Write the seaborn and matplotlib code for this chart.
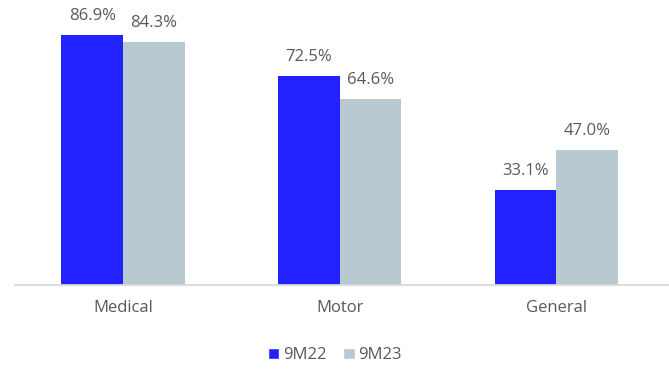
import numpy as np
import pandas as pd
import matplotlib
matplotlib.use("Agg")
import matplotlib.pyplot as plt
import seaborn as sns
from matplotlib.patches import Patch

# data
categories = ['Medical', 'Motor', 'General']
series = ['9M22', '9M23']
vals_9m22 = [86.9, 72.5, 33.1]
vals_9m23 = [84.3, 64.6, 47.0]
colors = ['#2222FF', '#B9C9D2']

df = pd.DataFrame({
    'cat': categories * 2,
    'period': [series[0]] * 3 + [series[1]] * 3,
    'val': vals_9m22 + vals_9m23,
})

sns.set_style('white')
plt.rcParams['font.family'] = ['Open Sans', 'DejaVu Sans']

fig = plt.figure(figsize=(6.69, 3.70), dpi=100)
ax = fig.add_axes([0.022, 0.2297, 0.978, 0.7703])

sns.barplot(data=df, x='cat', y='val', hue='period', palette=colors,
            width=0.57, saturation=1, linewidth=0, ax=ax, legend=False)

# value labels
for cont in ax.containers:
    ax.bar_label(cont, labels=[f'{v:.1f}%' for v in cont.datavalues],
                 padding=8, fontsize=12, color='#595959')

ax.set_xlim(-0.5, 2.52)
ax.set_ylim(0, 99)
ax.set_xlabel('')
ax.set_ylabel('')
ax.set_yticks([])
ax.tick_params(axis='x', length=0, pad=11, labelsize=12, labelcolor='#595959')
for s in ['top', 'right', 'left']:
    ax.spines[s].set_visible(False)
ax.spines['bottom'].set_color('#D9D9D9')
ax.spines['bottom'].set_linewidth(1.3)

# legend
handles = [Patch(facecolor=c, label=l) for c, l in zip(colors, series)]
fig.legend(handles=handles, loc='center', bbox_to_anchor=(0.5, 0.04), ncol=2,
           frameon=False, fontsize=12, labelcolor='#595959',
           handlelength=0.7, handleheight=0.7, handletextpad=0.2, columnspacing=1.0)

fig.savefig('out.png', dpi=100)
